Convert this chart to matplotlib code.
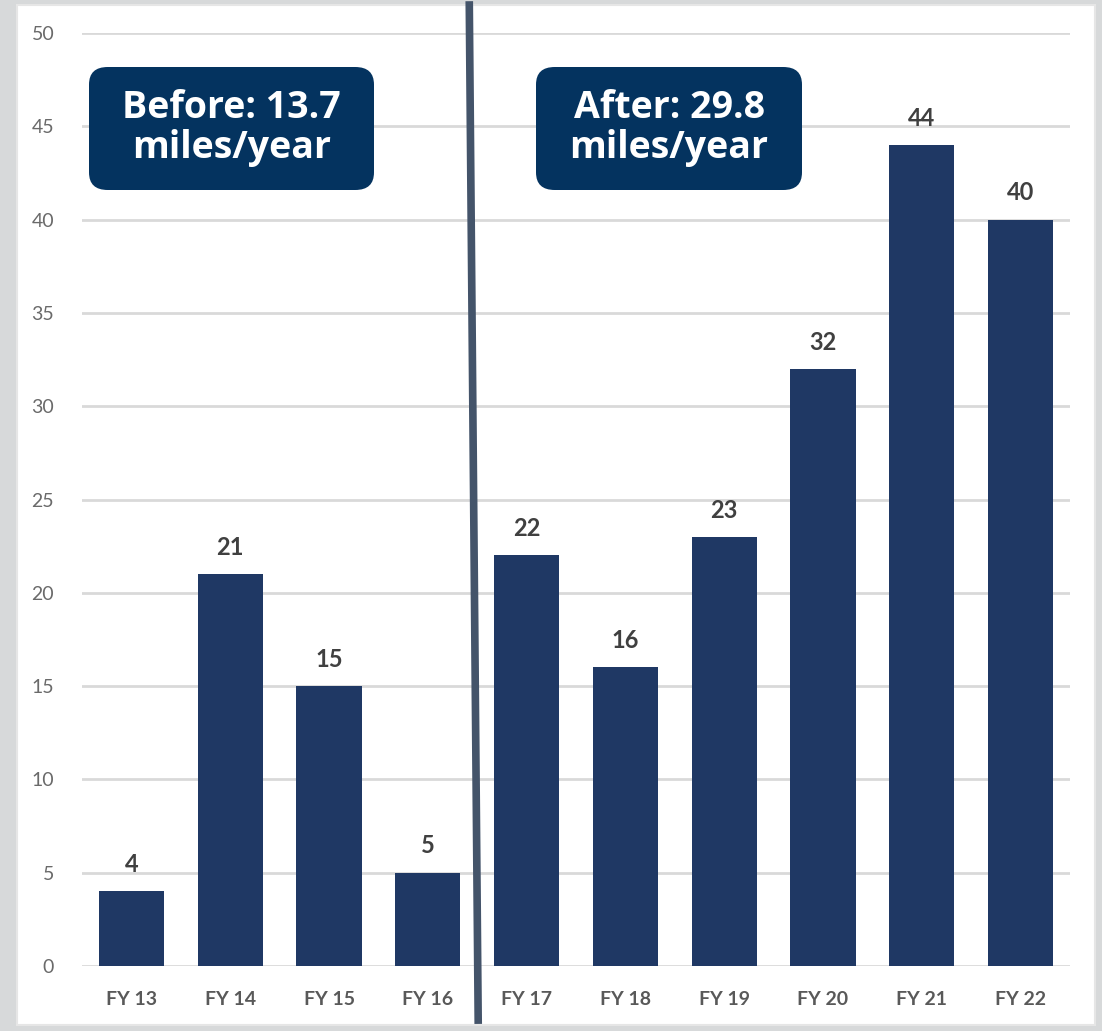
import matplotlib.pyplot as plt
from matplotlib.patches import FancyBboxPatch, Rectangle
from matplotlib.lines import Line2D

years = ['FY 13', 'FY 14', 'FY 15', 'FY 16', 'FY 17',
         'FY 18', 'FY 19', 'FY 20', 'FY 21', 'FY 22']
miles = [4, 21, 15, 5, 22, 16, 23, 32, 44, 40]
before_label = 'Before: 13.7\nmiles/year'
after_label = 'After: 29.8\nmiles/year'

bar_color = '#1f3864'
box_color = '#04335f'

fig = plt.figure(figsize=(11.02, 10.31), dpi=100, facecolor='#d7d9da')

# white card behind the chart
fig.patches.append(Rectangle((17 / 1102, 1 - 1025 / 1031), 1078 / 1102, 1020 / 1031,
                             transform=fig.transFigure, facecolor='white',
                             edgecolor='#e6e6e6', lw=1.5, zorder=-5))

ax = fig.add_axes([82 / 1102, 65 / 1031, 988 / 1102, 933 / 1031])
ax.set_facecolor('none')
ax.set_zorder(1)

x = range(len(years))
ax.bar(x, miles, width=0.66, color=bar_color, zorder=3)
for xi, v in zip(x, miles):
    ax.annotate(str(v), (xi, v), xytext=(0, 11), textcoords='offset points',
                ha='center', va='bottom', fontsize=17, fontweight='bold',
                color='#404040', family='Lato')

ax.set_xlim(-0.5, 9.5)
ax.set_ylim(0, 50)
ax.set_yticks(range(0, 51, 5))
ax.grid(axis='y', color='#d9d9d9', lw=2, zorder=0)
ax.set_axisbelow(True)
for s in ax.spines.values():
    s.set_visible(False)
ax.tick_params(length=0)
ax.tick_params(axis='y', pad=20, labelsize=14, labelcolor='#6a6a6a')
ax.tick_params(axis='x', pad=18, labelsize=14, labelcolor='#595959')
ax.set_xticks(list(x))
ax.set_xticklabels(years, fontweight='bold', family='Lato')
for lab in ax.get_yticklabels():
    lab.set_family('Lato')

# before / after divider
ax.add_line(Line2D([3.42, 3.51], [1.03, -0.058], transform=ax.get_xaxis_transform(),
                   color='#44546a', lw=5.5, clip_on=False, zorder=5))

# callout boxes
for x0, w, label in [(89, 285, before_label), (536, 266, after_label)]:
    fig.patches.append(FancyBboxPatch((x0 / 1102, 1 - 190 / 1031), w / 1102, 123 / 1031,
                                      boxstyle='round,pad=0,rounding_size=0.017',
                                      transform=fig.transFigure, facecolor=box_color,
                                      edgecolor='none', zorder=6))
    fig.text((x0 + w / 2) / 1102, 1 - 128 / 1031, label, ha='center', va='center',
             color='white', fontsize=27, fontweight='bold', family='Open Sans',
             linespacing=1.08, zorder=7)

fig.savefig('out.png', dpi=100, facecolor=fig.get_facecolor())
